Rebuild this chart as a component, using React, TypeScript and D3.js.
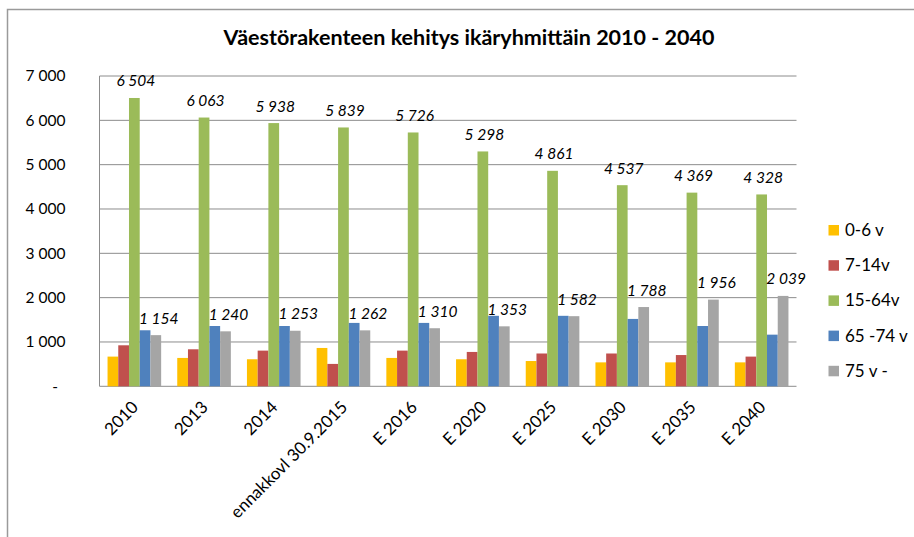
import React from "react";
import * as d3 from "d3";

const categories = ["2010", "2013", "2014", "ennakkovl 30.9.2015", "E 2016", "E 2020", "E 2025", "E 2030", "E 2035", "E 2040"];
const seriesNames = ["0-6 v", "7-14v", "15-64v", "65 -74 v", "75 v -"];
const seriesColors = ["#FFC000", "#C0504D", "#9BBB59", "#4F81BD", "#A5A5A5"];
const age0_6 = [670, 640, 610, 865, 640, 610, 570, 540, 540, 540];
const age7_14 = [925, 835, 805, 505, 805, 775, 740, 740, 705, 670];
const age15_64 = [6504, 6063, 5938, 5839, 5726, 5298, 4861, 4537, 4369, 4328];
const age65_74 = [1264, 1360, 1360, 1430, 1430, 1590, 1590, 1520, 1360, 1165];
const age75 = [1154, 1240, 1253, 1262, 1310, 1353, 1582, 1788, 1956, 2039];
const yTicks = [0, 1000, 2000, 3000, 4000, 5000, 6000, 7000];
const labeledSeries = [2, 4];

const seriesValues = [age0_6, age7_14, age15_64, age65_74, age75];

const W = 914;
const H = 537;
const plot = { left: 99.5, right: 796.5, top: 76, bottom: 386.3 };
const FONT = "Lato, 'Open Sans', 'DejaVu Sans', sans-serif";

const fmt = (v: number) => {
  if (v === 0) return "-";
  const s = d3.format(",")(v);
  return s.replace(/,/g, " ");
};

export default function App() {
  const x0 = d3.scaleBand<string>().domain(categories).range([plot.left, plot.right]).paddingInner(0).paddingOuter(0);
  const bw = x0.bandwidth();
  const barW = bw / 6.5;
  const x1 = d3
    .scaleBand<number>()
    .domain(d3.range(seriesNames.length))
    .range([barW * 0.75, barW * 0.75 + barW * 5]);
  const y = d3.scaleLinear().domain([0, 7000]).range([plot.bottom, plot.top]);

  return (
    <svg width={W} height={H} style={{ display: "block", position: "absolute", left: 0, top: 0 }} fontFamily={FONT}>
      <rect x={0} y={0} width={W} height={H} fill="#fff" />
      {/* outer frame */}
      <path d={`M7.5,${H} V9.5 H${W}`} fill="none" stroke="#9a9a9a" strokeWidth={1.5} />
      {/* title */}
      <text x={469} y={44.5} textAnchor="middle" fontSize={21.5} fontWeight="bold" fill="#000">
        Väestörakenteen kehitys ikäryhmittäin 2010 - 2040
      </text>
      {/* gridlines */}
      {yTicks.map((t) => (
        <line key={"g" + t} x1={plot.left} x2={plot.right} y1={y(t)} y2={y(t)} stroke="#8c8c8c" strokeWidth={1} />
      ))}
      <line x1={plot.left} x2={plot.left} y1={plot.top} y2={plot.bottom} stroke="#8c8c8c" strokeWidth={1} />
      {/* y labels */}
      {yTicks.map((t) => (
        <text
          key={"yl" + t}
          x={t === 0 ? 58 : 65.5}
          y={y(t)}
          dy="0.35em"
          textAnchor="end"
          fontSize={15.5}
          fill="#000"
        >
          {fmt(t)}
        </text>
      ))}
      {/* bars */}
      {categories.map((c, i) => (
        <g key={c} transform={`translate(${x0(c)},0)`}>
          {seriesValues.map((vals, s) => (
            <rect
              key={s}
              x={x1(s)}
              y={y(vals[i])}
              width={x1.bandwidth()}
              height={plot.bottom - y(vals[i])}
              fill={seriesColors[s]}
            />
          ))}
        </g>
      ))}
      {/* data labels */}
      {categories.map((c, i) =>
        labeledSeries.map((s) => (
          <text
            key={c + "l" + s}
            x={(x0(c) as number) + (x1(s) as number) + x1.bandwidth() / 2 + (s === 4 ? 3 : 1.5)}
            y={y(seriesValues[s][i]) - 11.5}
            textAnchor="middle"
            fontSize={15.5}
            fontStyle="italic"
            fill="#000"
          >
            {fmt(seriesValues[s][i])}
          </text>
        ))
      )}
      {/* x labels */}
      {categories.map((c) => {
        const cx = (x0(c) as number) + bw / 2 + 5;
        const cy = plot.bottom + 22;
        return (
          <text
            key={"xl" + c}
            x={cx}
            y={cy}
            textAnchor="end"
            fontSize={17}
            fill="#000"
            transform={`rotate(-45 ${cx} ${cy})`}
          >
            {c}
          </text>
        );
      })}
      {/* legend */}
      {seriesNames.map((n, i) => (
        <g key={n} transform={`translate(828.5,${230 + i * 35.2})`}>
          <rect x={0} y={-5} width={10.5} height={10.5} fill={seriesColors[i]} />
          <text x={16.5} y={0} dy="0.35em" fontSize={17} fill="#000">
            {n}
          </text>
        </g>
      ))}
    </svg>
  );
}
